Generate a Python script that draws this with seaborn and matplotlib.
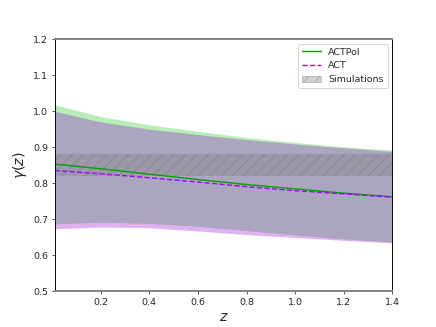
import numpy as np
import pandas as pd
import matplotlib
matplotlib.use("Agg")
import matplotlib.pyplot as plt
import seaborn as sns
from matplotlib.lines import Line2D
from matplotlib.patches import Patch

# redshift grid
z = [0.01, 0.2, 0.4, 0.6, 0.8, 1.0, 1.2, 1.4]

actpol_mean = [0.853, 0.840, 0.825, 0.810, 0.796, 0.784, 0.772, 0.762]
actpol_upper = [1.018, 0.985, 0.962, 0.944, 0.927, 0.913, 0.901, 0.892]
actpol_lower = [0.687, 0.691, 0.688, 0.680, 0.668, 0.656, 0.645, 0.636]

act_mean = [0.835, 0.826, 0.815, 0.803, 0.790, 0.779, 0.770, 0.761]
act_upper = [1.000, 0.970, 0.950, 0.935, 0.921, 0.909, 0.898, 0.888]
act_lower = [0.673, 0.678, 0.676, 0.667, 0.657, 0.649, 0.641, 0.634]

sim_low, sim_high = 0.82, 0.88

green = "#0a9e0a"
purple = "#9a10f5"

df = pd.DataFrame({
    "z": z * 2,
    "gamma": actpol_mean + act_mean,
    "data": ["ACTPol"] * len(z) + ["ACT"] * len(z),
})

sns.set_style("ticks")
plt.rcParams["font.family"] = ["DejaVu Sans"]

fig, ax = plt.subplots(figsize=(6.4, 4.8), dpi=68.125)

ax.fill_between(z, actpol_lower, actpol_upper, color="limegreen", alpha=0.35, lw=0)
ax.fill_between(z, act_lower, act_upper, color="darkviolet", alpha=0.3, lw=0)

sns.lineplot(data=df, x="z", y="gamma", hue="data", style="data",
             palette={"ACTPol": green, "ACT": purple},
             dashes={"ACTPol": "", "ACT": (3.7, 1.6)},
             lw=1.5, ax=ax, legend=False)

ax.fill_between([0.0, 1.5], sim_low, sim_high, color="gray", alpha=0.35,
                hatch="//", edgecolor="dimgray", lw=0)

handles = [
    Line2D([], [], color=green, lw=1.5),
    Line2D([], [], color=purple, lw=1.5, ls="--"),
    Patch(facecolor="gray", alpha=0.35, hatch="//", edgecolor="dimgray"),
]
ax.legend(handles, ["ACTPol", "ACT", "Simulations"], loc="upper right",
          fontsize=10, frameon=True)

ax.set_xlim(0.01, 1.4)
ax.set_ylim(0.5, 1.2)
ax.set_xticks([0.2, 0.4, 0.6, 0.8, 1.0, 1.2, 1.4])
ax.set_yticks(np.arange(0.5, 1.21, 0.1))
ax.tick_params(labelsize=10)
ax.set_xlabel("$z$", fontsize=15)
ax.set_ylabel(r"$\gamma(z)$", fontsize=15)

for side in ["top", "bottom"]:
    ax.spines[side].set_color("gray")
    ax.spines[side].set_linewidth(2)
for side in ["left", "right"]:
    ax.spines[side].set_color("black")
    ax.spines[side].set_linewidth(1)

plt.subplots_adjust(left=0.125, right=0.9, top=0.88, bottom=0.11)
plt.savefig("out.png", dpi=68.125)
plt.close()
